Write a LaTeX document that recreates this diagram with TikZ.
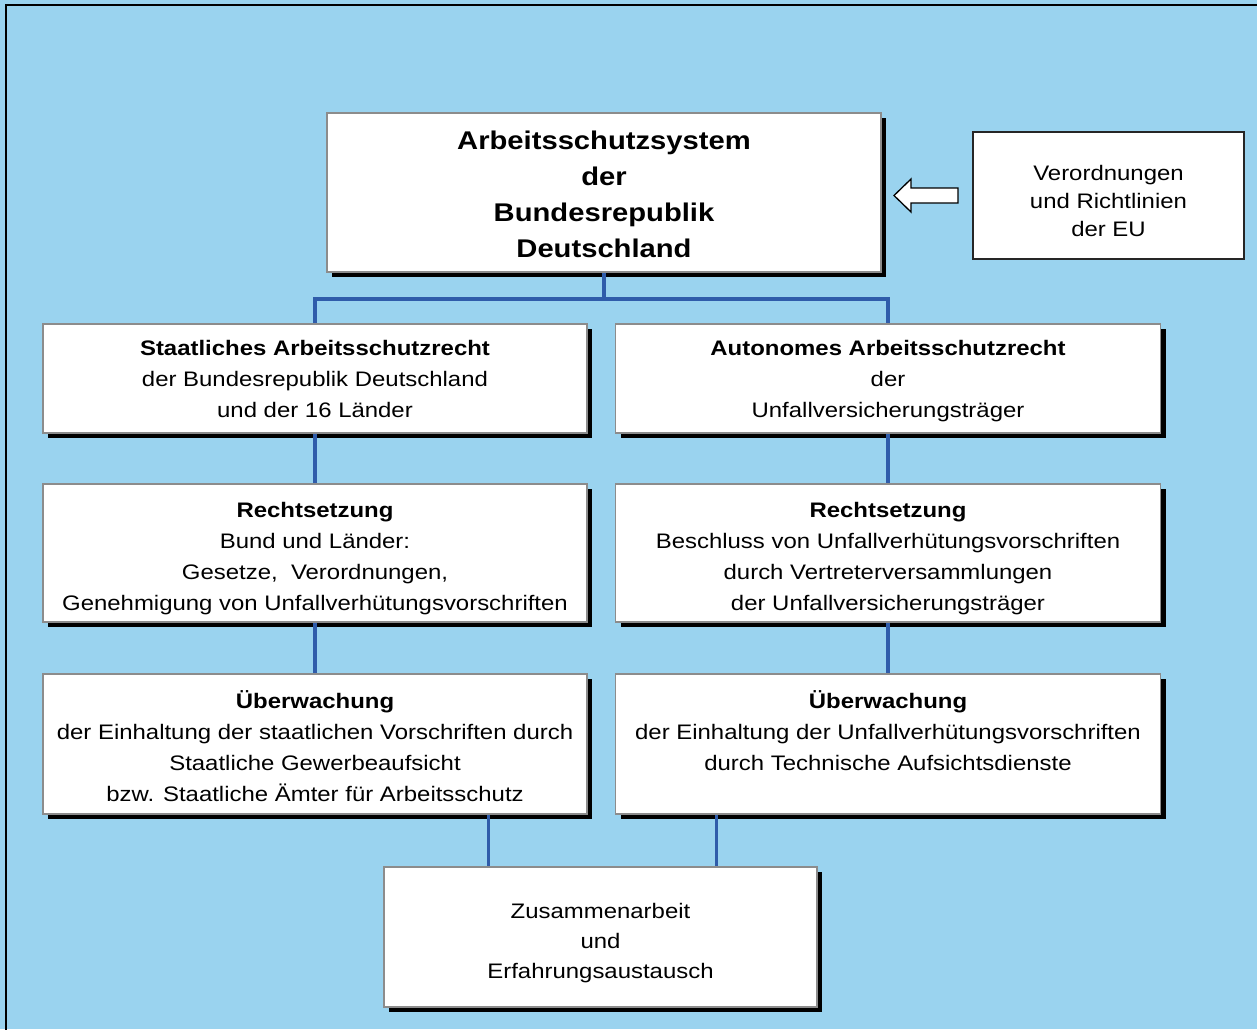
\documentclass[tikz,border=0pt]{standalone}
\usepackage{fontspec}
\setmainfont{Liberation Sans}[FakeStretch=1.14]
\usetikzlibrary{shadows}
\definecolor{bgblue}{RGB}{154,211,239}
\definecolor{connblue}{RGB}{47,92,170}
\definecolor{boxgray}{RGB}{140,140,140}
\tikzset{
  boxstyle/.style={draw=boxgray, line width=1.6pt, fill=white, inner sep=0pt,
    general shadow={fill=black, shadow xshift=5pt, shadow yshift=-5pt}},
  eubox/.style={draw=black!85, line width=1.4pt, fill=white, inner sep=0pt},
  txt/.style={inner sep=0pt, align=center, font=\fontsize{21pt}{31pt}\selectfont},
  conn/.style={draw=connblue, line width=3.2pt}
}
\begin{document}
\begin{tikzpicture}[x=1pt,y=-1pt]
\useasboundingbox (0,0) rectangle (1257,1029);
\fill[bgblue] (0,0) rectangle (1257,1029);
\draw[black, line width=2pt] (6,1035) -- (6,5) -- (1262,5);

% boxes
\node[boxstyle, minimum width=554pt, minimum height=159pt] (top) at (604,192.5) {};
\node[eubox, minimum width=271pt, minimum height=127pt] (eu) at (1108.5,195.5) {};
\node[boxstyle, minimum width=544pt, minimum height=109pt] (L1) at (315,378.5) {};
\node[boxstyle, minimum width=545pt, minimum height=109pt] (R1) at (888,378.5) {};
\node[boxstyle, minimum width=544pt, minimum height=138pt] (L2) at (315,553) {};
\node[boxstyle, minimum width=545pt, minimum height=138pt] (R2) at (888,553) {};
\node[boxstyle, minimum width=544pt, minimum height=140pt] (L3) at (315,744) {};
\node[boxstyle, minimum width=545pt, minimum height=140pt] (R3) at (888,744) {};
\node[boxstyle, minimum width=433pt, minimum height=140pt] (bot) at (600.5,937) {};

% texts
\node[txt, font=\bfseries\fontsize{25.6pt}{36pt}\selectfont] (topT) at ([yshift=-2pt]top.center)
  {Arbeitsschutzsystem\\der\\Bundesrepublik\\Deutschland};
\node[txt, font=\fontsize{21pt}{28pt}\selectfont] (euT) at ([yshift=-5pt]eu.center)
  {Verordnungen\\und Richtlinien\\der EU};
\node[txt] (L1T) at ([yshift=0pt]L1.center)
  {\textbf{Staatliches Arbeitsschutzrecht}\\der Bundesrepublik Deutschland\\und der 16 Länder};
\node[txt] (R1T) at ([yshift=-3pt]R1.center)
  {\textbf{Autonomes Arbeitsschutzrecht}\\der\\Unfallversicherungsträger};
\node[txt] (L2T) at ([yshift=-6pt]L2.center)
  {\textbf{Rechtsetzung}\\Bund und Länder:\\Gesetze,\ \ Verordnungen,\\Genehmigung von Unfallverhütungsvorschriften};
\node[txt] (R2T) at ([yshift=-6pt]R2.center)
  {\textbf{Rechtsetzung}\\Beschluss von Unfallverhütungsvorschriften\\durch Vertreterversammlungen\\der Unfallversicherungsträger};
\node[txt] (L3T) at ([yshift=-2pt]L3.center)
  {\textbf{Überwachung}\\der Einhaltung der staatlichen Vorschriften durch\\Staatliche Gewerbeaufsicht\\bzw. Staatliche Ämter für Arbeitsschutz};
\node[txt, anchor=north] (R3T) at (L3T.north -| R3.center)
  {\textbf{Überwachung}\\der Einhaltung der Unfallverhütungsvorschriften\\durch Technische Aufsichtsdienste};
\node[txt, font=\fontsize{21pt}{30pt}\selectfont] (botT) at ([yshift=-6pt]bot.center)
  {Zusammenarbeit\\und\\Erfahrungsaustausch};

% block arrow from EU box to the main box
\filldraw[fill=white, draw=black, line width=1.3pt, line join=miter]
  (894,195.5) -- (911,179) -- (911,188) -- (958,188) -- (958,203) -- (911,203) -- (911,212) -- cycle;

% connectors
\coordinate (j) at (604,299);
\draw[conn] (top.south) -- (j);
\draw[conn] (j) -| (L1.north);
\draw[conn] (j) -| (R1.north);
\draw[conn] (L1.south) -- (L2.north);
\draw[conn] (R1.south) -- (R2.north);
\draw[conn] (L2.south) -- (L3.north);
\draw[conn] (R2.south) -- (R3.north);
\draw[conn] (L3.south -| bot.north west) ++(105,0) coordinate (bl) -- (bl |- bot.north);
\draw[conn] (L3.south -| bot.north west) ++(333,0) coordinate (br) -- (br |- bot.north);
\end{tikzpicture}
\end{document}
